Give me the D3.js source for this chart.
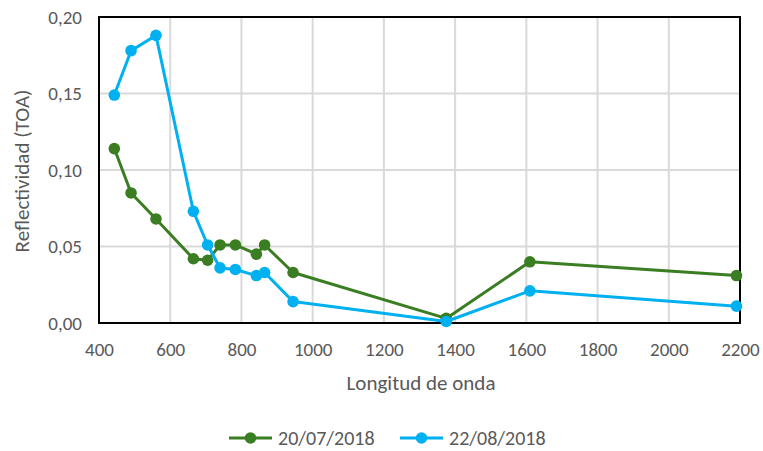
<!DOCTYPE html>
<html>
<head>
<meta charset="utf-8">
<script src="https://cdn.jsdelivr.net/npm/d3@7"></script>
<style>
  body { margin: 0; background: #fff; }
  svg text { font-family: Carlito, Calibri, Lato, sans-serif; fill: #595959; }
</style>
</head>
<body>
<svg id="chart" width="763" height="451"></svg>
<script>
// wavelengths (nm) for each band
const bands = [443, 490, 560, 665, 705, 740, 783, 842, 865, 945, 1375, 1610, 2190];
const julio = [0.114, 0.085, 0.068, 0.042, 0.041, 0.051, 0.051, 0.045, 0.051, 0.033, 0.003, 0.040, 0.031];
const agosto = [0.149, 0.178, 0.188, 0.073, 0.051, 0.036, 0.035, 0.031, 0.033, 0.014, 0.001, 0.021, 0.011];
const seriesNames = ['20/07/2018', '22/08/2018'];
const xTicks = [400, 600, 800, 1000, 1200, 1400, 1600, 1800, 2000, 2200];
const yTicks = [0, 0.05, 0.10, 0.15, 0.20];

const colors = ['#3A7D22', '#00B0F0'];
const series = [julio, agosto].map((vals, i) => ({
  name: seriesNames[i], color: colors[i],
  points: bands.map((b, j) => ({x: b, y: vals[j]}))
}));

const svg = d3.select('#chart');
const m = {left: 99, right: 740, top: 17, bottom: 323};

const x = d3.scaleLinear().domain([400, 2200]).range([m.left, m.right]);
const y = d3.scaleLinear().domain([0, 0.20]).range([m.bottom, m.top]);

// grid
svg.append('g')
  .selectAll('line').data(xTicks).enter().append('line')
  .attr('x1', d => x(d)).attr('x2', d => x(d))
  .attr('y1', m.top).attr('y2', m.bottom)
  .style('stroke', '#d9d9d9').style('stroke-width', 2);
svg.append('g')
  .selectAll('line').data(yTicks).enter().append('line')
  .attr('x1', m.left).attr('x2', m.right)
  .attr('y1', d => y(d)).attr('y2', d => y(d))
  .style('stroke', '#d9d9d9').style('stroke-width', 2);

// plot frame
svg.append('rect')
  .attr('x', m.left).attr('y', m.top)
  .attr('width', m.right - m.left).attr('height', m.bottom - m.top)
  .style('fill', 'none').style('stroke', '#000').style('stroke-width', 2);

// axes
const fmt = d => d3.format('.2f')(d).replace('.', ',');
const yAxis = d3.axisLeft(y).tickValues(yTicks).tickFormat(fmt).tickSize(0).tickPadding(17);
const xAxis = d3.axisBottom(x).tickValues(xTicks).tickFormat(d3.format('d')).tickSize(0).tickPadding(20);

svg.append('g').attr('transform', `translate(${m.left},0)`).call(yAxis)
  .call(g => g.select('.domain').remove())
  .selectAll('text').style('font-size', '19px');
svg.append('g').attr('transform', `translate(0,${m.bottom})`).call(xAxis)
  .call(g => g.select('.domain').remove())
  .selectAll('text').style('font-size', '19px');

// axis titles
svg.append('text')
  .attr('transform', 'translate(29,171) rotate(-90)')
  .attr('text-anchor', 'middle')
  .style('font-size', '21px')
  .text('Reflectividad (TOA)');
svg.append('text')
  .attr('x', 421).attr('y', 390)
  .attr('text-anchor', 'middle')
  .style('font-size', '21px')
  .text('Longitud de onda');

// lines and markers
const line = d3.line().x(d => x(d.x)).y(d => y(d.y));
const sg = svg.selectAll('g.series').data(series).enter().append('g').attr('class', 'series');
sg.append('path')
  .attr('d', d => line(d.points))
  .style('fill', 'none')
  .style('stroke', d => d.color)
  .style('stroke-width', 3)
  .style('stroke-linejoin', 'round');
sg.selectAll('circle').data(d => d.points.map(p => ({...p, color: d.color}))).enter()
  .append('circle')
  .attr('cx', d => x(d.x)).attr('cy', d => y(d.y))
  .attr('r', 5.8)
  .style('fill', d => d.color);

// legend
const legend = svg.selectAll('g.legend').data(series).enter().append('g')
  .attr('class', 'legend')
  .attr('transform', (d, i) => `translate(${229 + i * 171},438)`);
legend.append('line')
  .attr('x1', 0).attr('x2', 43).attr('y1', 0).attr('y2', 0)
  .style('stroke', d => d.color).style('stroke-width', 3);
legend.append('circle').attr('cx', 21.5).attr('cy', 0).attr('r', 5.8)
  .style('fill', d => d.color);
legend.append('text')
  .attr('x', 49).attr('y', 7)
  .style('font-size', '20px')
  .text(d => d.name);
</script>
</body>
</html>
